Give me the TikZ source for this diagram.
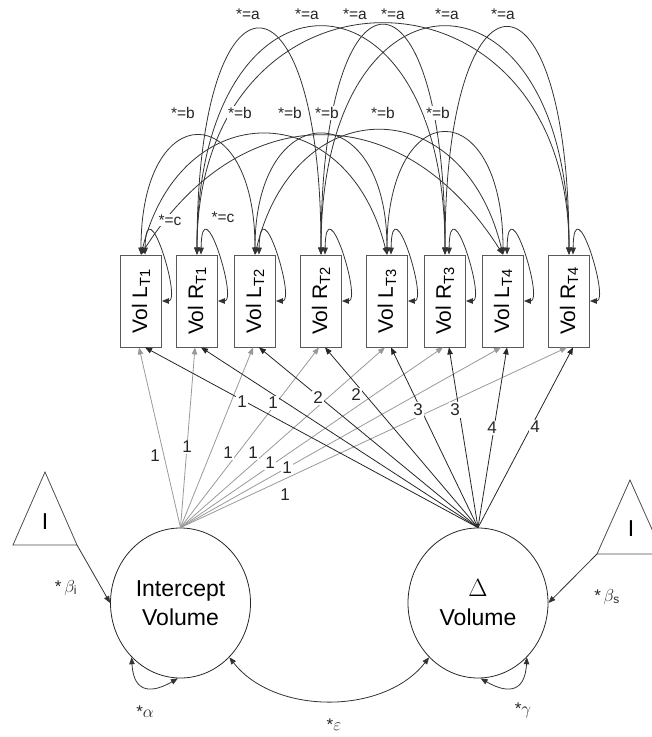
\documentclass[tikz,border=0pt]{standalone}
\usepackage{fontspec}
\setmainfont{Liberation Sans}
\usepackage{graphicx}
\usetikzlibrary{arrows.meta,shapes.geometric}
\newcommand\volbox[2]{\rotatebox{90}{Vol #1\textsubscript{#2}}}
\begin{document}
\begin{tikzpicture}[x=1pt,y=-1pt,
  obs/.style={draw=black!65, line width=0.8pt, fill=white, minimum width=41pt,
    minimum height=92pt, inner sep=0pt, font=\fontsize{21}{24}\selectfont},
  lat/.style={ellipse, draw=black!85, line width=0.8pt, minimum width=140pt,
    minimum height=150pt, inner sep=0pt, align=center, font=\fontsize{23}{29}\selectfont},
  cov/.style={black!80, line width=0.8pt, {Triangle[length=7pt,width=5.5pt]}-{Triangle[length=7pt,width=5.5pt]}},
  onearrow/.style={line width=0.8pt, -{Triangle[length=7pt,width=5.5pt]}},
  gline/.style={onearrow, black!40},
  bline/.style={onearrow, black!85},
  tri/.style={draw=black!70, line width=0.8pt},
  num/.style={fill=white, inner sep=1.5pt, font=\fontsize{17}{20}\selectfont, text=black!85},
  eq/.style={fill=white, inner sep=1pt, font=\fontsize{15.5}{18}\selectfont, text=black!85},
  greek/.style={inner sep=1pt, font=\fontsize{17}{20}\selectfont, text=black!85}
]
\useasboundingbox (0,0) rectangle (652,737);

% observed variables
\node[obs] (b1) at (141,301) {\volbox{L}{T1}};
\node[obs] (b2) at (197,301) {\volbox{R}{T1}};
\node[obs] (b3) at (255,301) {\volbox{L}{T2}};
\node[obs] (b4) at (321,301) {\volbox{R}{T2}};
\node[obs] (b5) at (387,301) {\volbox{L}{T3}};
\node[obs] (b6) at (445,301) {\volbox{R}{T3}};
\node[obs] (b7) at (503,301) {\volbox{L}{T4}};
\node[obs] (b8) at (569,301) {\volbox{R}{T4}};

% latent variables
\node[lat] (I) at (180.5,603) {Intercept\\Volume};
\node[lat] (D) at (478,603) {$\Delta$\\Volume};

% constant triangles
\draw[tri] (45,472) -- (13,545) -- (77,545) -- cycle;
\coordinate (TL) at (77,545);
\node[font=\fontsize{23}{26}\selectfont] (TLI) at (45,522) {I};
\begin{scope}
\clip (0,0) rectangle (652,737);
\draw[tri] (630,480) -- (597,554) -- (663,554) -- cycle;
\end{scope}
\coordinate (TR) at (597,554);
\node[font=\fontsize{23}{26}\selectfont] (TRI) at (631,529) {I};

\draw[onearrow, black!80] (TL) -- (I.180);
\draw[onearrow, black!80] (TR) -- (D.0);

% loadings
\foreach \k in {1,...,8} \draw[gline] (I.north) -- ([xshift=-2pt]b\k.south);
\foreach \k in {1,...,8} \draw[bline] (D.north) -- ([xshift=4pt]b\k.south);

% covariances a (R with R)
\draw[cov] (b2.north) .. controls +(0,-300) and +(0,-300) .. (b4.north);
\draw[cov] (b2.north) .. controls +(0,-303) and +(0,-303) .. (b6.north);
\draw[cov] (b2.north) .. controls +(0,-307) and +(0,-307) .. (b8.north);
\draw[cov] (b4.north) .. controls +(0,-305) and +(0,-305) .. (b6.north);
\draw[cov] (b4.north) .. controls +(0,-303) and +(0,-303) .. (b8.north);
\draw[cov] (b6.north) .. controls +(0,-302) and +(0,-302) .. (b8.north);

% covariances b (L with L)
\draw[cov] (b1.north) .. controls +(0,-158) and +(0,-158) .. (b3.north);
\draw[cov] (b3.north) .. controls +(0,-160) and +(0,-160) .. (b5.north);
\draw[cov] (b5.north) .. controls +(0,-162) and +(0,-162) .. (b7.north);
\draw[cov] (b1.north) .. controls +(40,-160) and +(-40,-160) .. (b5.north);
\draw[cov] (b3.north) .. controls +(40,-165) and +(-40,-165) .. (b7.north);
\draw[cov] (b1.north) .. controls +(100,-158) and +(-100,-158) .. (b7.north);

% variances of observed variables
\foreach \k in {1,...,8}
  \draw[cov] ([xshift=4pt]b\k.north) .. controls +(1,-70) and +(20,0) .. (b\k.east);

% latent variances and covariance
\draw[cov] (I.228) .. controls +(2,38) and +(-24,14) .. (I.268);
\draw[cov] (D.272) .. controls +(24,14) and +(-2,38) .. (D.312);
\draw[cov] (I.312) .. controls +(45,58) and +(-45,58) .. (D.228);

% loading labels
\node[num] (g1) at (155,456) {1};
\node[num] (g2) at (187,447) {1};
\node[num] (g3) at (228,453) {1};
\node[num] (g4) at (253,453) {1};
\node[num] (g5) at (270,463) {1};
\node[num] (g6) at (287,468) {1};
\node[num] (g7) at (285,495) {1};
\node[num] (k1) at (242,402) {1};
\node[num] (k2) at (273,403) {1};
\node[num] (k3) at (318,398) {2};
\node[num] (k4) at (356,395) {2};
\node[num] (k5) at (418,410) {3};
\node[num] (k6) at (455,410) {3};
\node[num] (k7) at (492,428) {4};
\node[num] (k8) at (535,427) {4};

% constraint labels
\foreach \x [count=\i] in {248,307,355,393,447,503}
  \node[eq] (a\i) at (\x,14) {*=a};
\foreach \x [count=\i] in {183,240,290,327,383,438}
  \node[eq] (bb\i) at (\x,113) {*=b};
\node[eq] (c1) at (170,220) {*=c};
\node[eq] (c2) at (223,217) {*=c};

% parameter labels
\node[greek] (lbi) at (66,588) {*\,$\beta_{\mathrm{i}}$};
\node[greek] (lbs) at (607,597) {*\,$\beta_{\mathrm{s}}$};
\node[greek] (lal) at (145,712) {*$\alpha$};
\node[greek] (lga) at (523,710) {*$\gamma$};
\node[greek] (lep) at (334,725) {*$\varepsilon$};
\end{tikzpicture}
\end{document}
